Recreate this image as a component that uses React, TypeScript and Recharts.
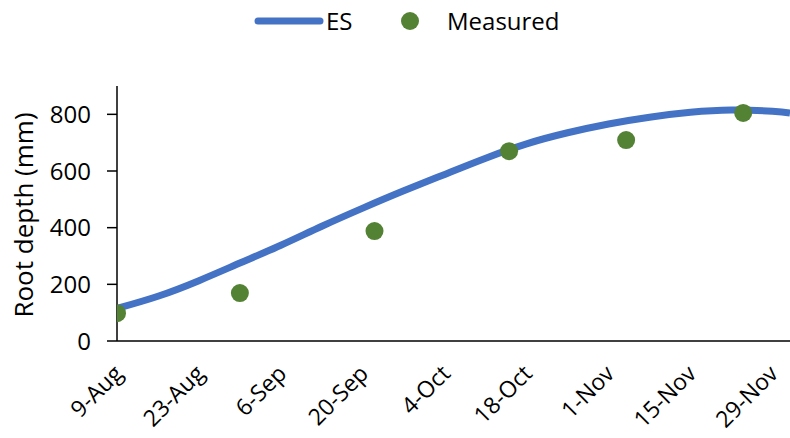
import React from "react";
import { ComposedChart, Line, Scatter, XAxis, YAxis } from "recharts";

// days counted from 9-Aug
const tickDays = [0, 14, 28, 42, 56, 70, 84, 98, 112];
const tickLabels = ["9-Aug", "23-Aug", "6-Sep", "20-Sep", "4-Oct", "18-Oct", "1-Nov", "15-Nov", "29-Nov"];

const esDays = [0, 7, 14, 21, 28, 35, 42, 49, 56, 63, 70, 77, 84, 91, 98, 105, 112, 115];
const esDepth = [115, 158, 213, 275, 338, 405, 469, 530, 588, 645, 696, 735, 766, 790, 807, 815, 811, 805];

const measuredDays = [0, 21, 44, 67, 87, 107];
const measuredDepth = [98, 169, 388, 670, 709, 805];

const yTicks = [0, 200, 400, 600, 800];

const FONT = "'Open Sans', sans-serif";
const BLUE = "#4472C4";
const GREEN = "#548235";

const esData = esDays.map((d, i) => ({ day: d, depth: esDepth[i] }));
const measuredData = measuredDays.map((d, i) => ({ day: d, depth: measuredDepth[i] }));

function DateTick({ x, y, payload }: any) {
  const idx = tickDays.indexOf(payload.value);
  return (
    <g transform={`translate(${x + 7},${y + 26})`}>
      <text
        x={0}
        y={0}
        textAnchor="end"
        transform="rotate(-45)"
        fontFamily={FONT}
        fontSize={23}
        fill="#000"
      >
        {idx >= 0 ? tickLabels[idx] : ""}
      </text>
    </g>
  );
}

function DotShape(props: any) {
  return <circle cx={props.cx} cy={props.cy} r={9} fill={GREEN} />;
}

function LegendBar() {
  return (
    <svg width={790} height={44} style={{ position: "absolute", left: 0, top: 0 }}>
      <line x1={258} y1={21} x2={320} y2={21} stroke={BLUE} strokeWidth={7} strokeLinecap="round" />
      <text x={326} y={30} fontFamily={FONT} fontSize={24} fill="#000">ES</text>
      <circle cx={410} cy={21} r={9} fill={GREEN} />
      <text x={447} y={30} fontFamily={FONT} fontSize={24} fill="#000">Measured</text>
    </svg>
  );
}

export default function App() {
  return (
    <div style={{ position: "absolute", left: 0, top: 0, width: 790, height: 438, background: "#fff" }}>
      <ComposedChart width={790} height={438} margin={{ top: 86, right: 0, bottom: 0, left: 0 }}>
        <XAxis
          type="number"
          dataKey="day"
          domain={[0, 115]}
          ticks={tickDays}
          tick={<DateTick />}
          tickLine={false}
          axisLine={{ stroke: "#000", strokeWidth: 1.5 }}
          height={97}
          allowDataOverflow
        />
        <YAxis
          type="number"
          domain={[0, 900]}
          ticks={yTicks}
          width={117}
          tick={{ fontFamily: FONT, fontSize: 24, fill: "#000" }}
          tickLine={{ stroke: "#000", strokeWidth: 1.5 }}
          tickSize={10}
          tickMargin={16}
          axisLine={{ stroke: "#000", strokeWidth: 1.5 }}
          label={() => (
            <text
              x={33}
              y={215}
              transform="rotate(-90, 33, 215)"
              textAnchor="middle"
              fontFamily={FONT}
              fontSize={26}
              fill="#000"
            >
              Root depth (mm)
            </text>
          )}
        />
        <Line
          data={esData}
          dataKey="depth"
          type="natural"
          stroke={BLUE}
          strokeWidth={7}
          dot={false}
          isAnimationActive={false}
        />
        <Scatter
          data={measuredData}
          dataKey="depth"
          fill={GREEN}
          shape={<DotShape />}
          isAnimationActive={false}
        />
      </ComposedChart>
      <LegendBar />
    </div>
  );
}
